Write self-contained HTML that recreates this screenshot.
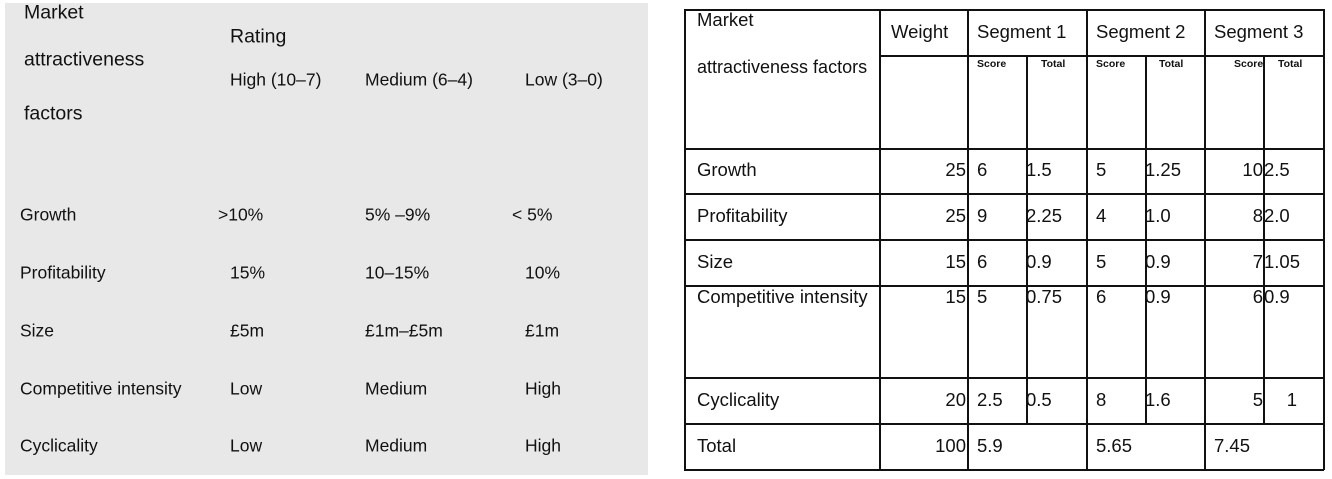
<!DOCTYPE html>
<html><head><meta charset="utf-8"><style>
body{margin:0;width:1332px;height:479px;background:#fff;position:relative;overflow:hidden;font-family:"Liberation Sans",sans-serif;color:#111}
.t{position:absolute;white-space:nowrap;line-height:1;transform:translateY(-50%)}
.l{font-size:17.5px}
.r{font-size:18.5px}
.s{font-size:10.5px;font-weight:bold}
.h{position:absolute;height:1.5px;background:#111}
.v{position:absolute;width:1.5px;background:#111}
</style></head><body>
<div style="position:absolute;left:5px;top:3px;width:643px;height:472px;background:#e8e8e8">
<div class="t" style="left:19px;top:10px;font-size:19.5px">Market</div>
<div class="t" style="left:19px;top:57px;font-size:19.5px">attractiveness</div>
<div class="t" style="left:19px;top:111px;font-size:19.5px">factors</div>
<div class="t" style="left:225px;top:34px;font-size:19.5px">Rating</div>
<div class="t l" style="left:225px;top:77px">High (10–7)</div>
<div class="t l" style="left:360px;top:77px">Medium (6–4)</div>
<div class="t l" style="left:520px;top:77px">Low (3–0)</div>
<div class="t l" style="left:15px;top:212px">Growth</div>
<div class="t l" style="left:213px;top:212px">&gt;10%</div>
<div class="t l" style="left:360px;top:212px">5% –9%</div>
<div class="t l" style="left:507px;top:212px">&lt; 5%</div>
<div class="t l" style="left:15px;top:270px">Profitability</div>
<div class="t l" style="left:225px;top:270px">15%</div>
<div class="t l" style="left:360px;top:270px">10–15%</div>
<div class="t l" style="left:520px;top:270px">10%</div>
<div class="t l" style="left:15px;top:328px">Size</div>
<div class="t l" style="left:225px;top:328px">£5m</div>
<div class="t l" style="left:360px;top:328px">£1m–£5m</div>
<div class="t l" style="left:520px;top:328px">£1m</div>
<div class="t l" style="left:15px;top:386px">Competitive intensity</div>
<div class="t l" style="left:225px;top:386px">Low</div>
<div class="t l" style="left:360px;top:386px">Medium</div>
<div class="t l" style="left:520px;top:386px">High</div>
<div class="t l" style="left:15px;top:443px">Cyclicality</div>
<div class="t l" style="left:225px;top:443px">Low</div>
<div class="t l" style="left:360px;top:443px">Medium</div>
<div class="t l" style="left:520px;top:443px">High</div>
</div>

<div>
<div class="h" style="left:684px;top:9px;width:640px"></div>
<div class="h" style="left:879px;top:55px;width:445px"></div>
<div class="h" style="left:684px;top:148px;width:640px"></div>
<div class="h" style="left:684px;top:193px;width:640px"></div>
<div class="h" style="left:684px;top:239px;width:640px"></div>
<div class="h" style="left:684px;top:285px;width:640px"></div>
<div class="h" style="left:684px;top:377px;width:640px"></div>
<div class="h" style="left:684px;top:423px;width:640px"></div>
<div class="h" style="left:684px;top:469px;width:640px"></div>
<div class="v" style="left:684px;top:9px;height:461px"></div>
<div class="v" style="left:879px;top:9px;height:461px"></div>
<div class="v" style="left:967px;top:9px;height:461px"></div>
<div class="v" style="left:1086px;top:9px;height:461px"></div>
<div class="v" style="left:1204px;top:9px;height:461px"></div>
<div class="v" style="left:1323px;top:9px;height:461px"></div>
<div class="v" style="left:1026px;top:55px;height:368px"></div>
<div class="v" style="left:1145px;top:55px;height:368px"></div>
<div class="v" style="left:1263px;top:55px;height:368px"></div>

<div class="t r" style="left:697px;top:20px">Market</div>
<div class="t r" style="left:697px;top:67px;font-size:18px">attractiveness factors</div>
<div class="t r" style="left:891px;top:32px">Weight</div>
<div class="t r" style="left:977px;top:32px">Segment 1</div>
<div class="t r" style="left:1096px;top:32px">Segment 2</div>
<div class="t r" style="left:1214px;top:32px">Segment 3</div>
<div class="t s" style="left:977px;top:64px">Score</div>
<div class="t s" style="left:1041px;top:64px">Total</div>
<div class="t s" style="left:1096px;top:64px">Score</div>
<div class="t s" style="left:1159px;top:64px">Total</div>
<div class="t s" style="left:1234px;top:64px">Score</div>
<div class="t s" style="left:1278px;top:64px">Total</div>
</div>
<div id="rows"></div>
<script>
const factors=["Growth","Profitability","Size","Competitive intensity","Cyclicality","Total"];
const weights=["25","25","15","15","20","100"];
const s1score=["6","9","6","5","2.5","5.9"];
const s1total=["1.5","2.25","0.9","0.75","0.5",""];
const s2score=["5","4","5","6","8","5.65"];
const s2total=["1.25","1.0","0.9","0.9","1.6",""];
const s3score=["10","8","7","6","5","7.45"];
const s3total=["2.5","2.0","1.05","0.9","1",""];
const rowY=[170,216,262,297,400,446];
const root=document.getElementById('rows');
function add(txt,x,y,name,right){
  const d=document.createElement('div');
  d.className='t r';
  d.textContent=txt;
  d.style.top=y+'px';
  if(right){d.style.right=(1332-x)+'px';}else{d.style.left=x+'px';}
  
  
  root.appendChild(d);
}
factors.forEach((f,i)=>{
  const y=rowY[i];
  add(f,697,y,'factor-label',false);
  add(weights[i],966,y,'weight-value',true);
  add(s1score[i],977,y,'seg1-score-value',false);
  if(s1total[i])add(s1total[i],1026,y,'seg1-total-value',false);
  add(s2score[i],1096,y,'seg2-score-value',false);
  if(s2total[i])add(s2total[i],1145,y,'seg2-total-value',false);
  if(i<5){
    add(s3score[i],1263,y,'seg3-score-value',true);
    if(s3total[i]==="1")add(s3total[i],1297,y,'seg3-total-value',true);
    else add(s3total[i],1264,y,'seg3-total-value',false);
  } else add(s3score[i],1214,y,'seg3-score-value',false);
});
</script>
</body></html>
